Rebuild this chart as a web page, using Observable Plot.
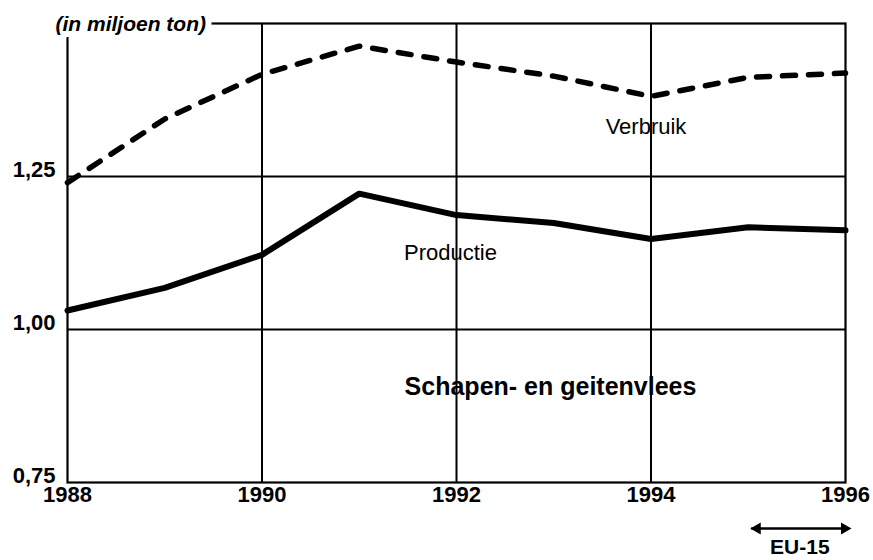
<!DOCTYPE html>
<html>
<head>
<meta charset="utf-8">
<script src="https://cdn.jsdelivr.net/npm/d3@7"></script>
<script src="https://cdn.jsdelivr.net/npm/@observablehq/plot@0.6"></script>
<style>
  html, body { margin: 0; padding: 0; background: #fff; }
  svg { font-family: "Liberation Sans", Arial, sans-serif; }
</style>
</head>
<body>
<div id="chart"></div>
<script>
const years = [1988, 1989, 1990, 1991, 1992, 1993, 1994, 1995, 1996];
const verbruik = [1.24, 1.344, 1.417, 1.463, 1.437, 1.414, 1.381, 1.412, 1.419];
const productie = [1.031, 1.068, 1.122, 1.222, 1.187, 1.174, 1.148, 1.167, 1.162];
const yTicks = [0.75, 1.00, 1.25];
const xTicks = [1988, 1990, 1992, 1994, 1996];
const gridYears = [1990, 1992, 1994];
const gridValues = [1.00, 1.25];
const unitLabel = "(in miljoen ton)";
const chartTitle = "Schapen- en geitenvlees";
const seriesNames = ["Verbruik", "Productie"];
const eraYears = [1995, 1996];
const eraLabel = "EU-15";

const vData = years.map((x, i) => ({x, y: verbruik[i]}));
const pData = years.map((x, i) => ({x, y: productie[i]}));
const yMin = yTicks[0];

const chart = Plot.plot({
  width: 873,
  height: 560,
  marginLeft: 67,
  marginRight: 28,
  marginTop: 23,
  marginBottom: 78,
  style: {background: "#fff", color: "#000", overflow: "visible", fontFamily: "Liberation Sans, Arial, sans-serif"},
  x: {domain: [1988, 1996]},
  y: {domain: [0.75, 1.5]},
  marks: [
    Plot.gridX(gridYears, {stroke: "#000", strokeOpacity: 1, strokeWidth: 2}),
    Plot.gridY(gridValues, {stroke: "#000", strokeOpacity: 1, strokeWidth: 2}),
    Plot.frame({stroke: "#000", strokeWidth: 2.2}),
    Plot.axisY(yTicks, {
      tickSize: 0, tickPadding: 12, dy: -7, fontSize: 22, fontWeight: "bold", label: null,
      tickFormat: d => d.toFixed(2).replace(".", ",")
    }),
    Plot.axisX(xTicks, {
      tickSize: 0, tickPadding: 4, fontSize: 22, fontWeight: "bold", label: null,
      tickFormat: d => String(d)
    }),
    Plot.line(vData, {x: "x", y: "y", stroke: "#000", strokeWidth: 5.5, strokeDasharray: "13,13", strokeLinecap: "round", strokeLinejoin: "round"}),
    Plot.line(pData, {x: "x", y: "y", stroke: "#000", strokeWidth: 6, strokeLinejoin: "round"}),
    Plot.text([vData[6]], {x: "x", y: "y", text: () => seriesNames[0], dx: -5, dy: 31, fontSize: 22, fill: "#000"}),
    Plot.text([pData[4]], {x: "x", y: "y", text: () => seriesNames[1], dx: -6, dy: 38, fontSize: 22, fill: "#000"}),
    Plot.text([chartTitle], {frameAnchor: "bottom", text: d => d, dx: 94, dy: -88, fontSize: 25, fontWeight: "bold", fill: "#000"}),
    Plot.link([eraYears], {x1: d => d[0], x2: d => d[1], y1: () => yMin, y2: () => yMin, dx: 3, dy: 46, stroke: "#000", strokeWidth: 2.5}),
    Plot.dot([eraYears[0]], {x: d => d, y: () => yMin, dx: 9, dy: 46, symbol: "triangle", r: 4.5, fill: "#000", stroke: "none", rotate: -90}),
    Plot.dot([eraYears[1]], {x: d => d, y: () => yMin, dx: -1, dy: 46, symbol: "triangle", r: 4.5, fill: "#000", stroke: "none", rotate: 90}),
    Plot.text([eraLabel], {x: () => (eraYears[0] + eraYears[1]) / 2, y: () => yMin, text: d => d, dx: 3, dy: 65, fontSize: 21, fontWeight: "bold", fill: "#000"}),
    Plot.text([unitLabel], {frameAnchor: "top-left", lineAnchor: "middle", text: d => d, textAnchor: "start", dx: -12, dy: 1, fontSize: 21, fontWeight: "bold", fontStyle: "italic", fill: "#000", stroke: "#fff", strokeWidth: 12, paintOrder: "stroke"})
  ]
});
document.getElementById("chart").appendChild(chart);
</script>
</body>
</html>
